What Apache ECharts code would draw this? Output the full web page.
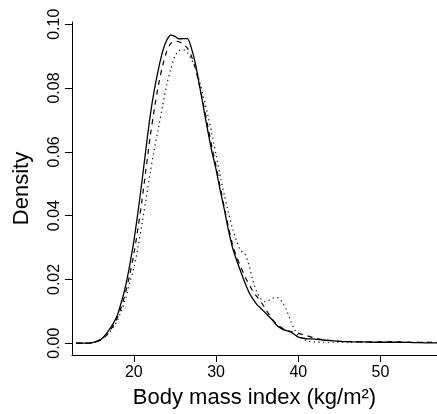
<!DOCTYPE html>
<html>
<head>
<meta charset="utf-8">
<script src="https://cdn.jsdelivr.net/npm/echarts@6/dist/echarts.min.js"></script>
<style>html,body{margin:0;padding:0;background:#fff;}#c{width:437px;height:414px;}</style>
</head>
<body>
<div id="c"></div>
<script>
const bmi = [13,14,15,16,16.5,17,17.5,18,18.5,19,19.5,20,20.5,21,21.5,22,22.5,23,23.5,24,24.5,25,25.5,26,26.5,27,27.5,28,28.5,29,29.5,30,30.5,31,31.5,32,32.5,33,33.5,34,34.5,35,35.5,36,36.5,37,37.5,38,38.5,39,39.5,40,41,42,43,44,45,46,48,50,52,54,56,57];
const densitySolid = [0,0,0.0002,0.0012,0.0025,0.0042,0.0062,0.0088,0.0130,0.0180,0.0245,0.0320,0.0410,0.0510,0.0615,0.0715,0.0795,0.0860,0.0915,0.0950,0.0966,0.0962,0.0954,0.0955,0.0955,0.0925,0.0875,0.0806,0.0735,0.0665,0.0600,0.0545,0.0480,0.0420,0.0355,0.0300,0.0260,0.0225,0.0190,0.0160,0.0138,0.0120,0.0108,0.0095,0.0082,0.0068,0.0053,0.0045,0.0040,0.0036,0.0028,0.0019,0.0014,0.0013,0.0010,0.0008,0.0006,0.0005,0.0004,0.0003,0.0003,0.0002,0.0001,0.0001];
const densityDashed = [0,0,0.0002,0.0010,0.0020,0.0035,0.0055,0.0080,0.0115,0.0160,0.0215,0.0280,0.0360,0.0450,0.0550,0.0650,0.0735,0.0810,0.0870,0.0915,0.0940,0.0947,0.0945,0.0938,0.0925,0.0900,0.0860,0.0805,0.0745,0.0680,0.0615,0.0555,0.0490,0.0425,0.0365,0.0310,0.0270,0.0240,0.0210,0.0185,0.0162,0.0145,0.0128,0.0108,0.0088,0.0070,0.0057,0.0048,0.0042,0.0037,0.0034,0.0031,0.0024,0.0016,0.0011,0.0008,0.0006,0.0005,0.0004,0.0004,0.0004,0.0003,0.0003,0.0003];
const densityDotted = [0,0,0.0002,0.0010,0.0020,0.0033,0.0050,0.0072,0.0102,0.0140,0.0190,0.0235,0.0300,0.0375,0.0455,0.0535,0.0610,0.0675,0.0745,0.0810,0.0860,0.0900,0.0918,0.0920,0.0912,0.0890,0.0862,0.0820,0.0770,0.0715,0.0655,0.0590,0.0525,0.0465,0.0410,0.0360,0.0320,0.0290,0.0280,0.0245,0.0195,0.0158,0.0138,0.0130,0.0135,0.0142,0.0143,0.0130,0.0108,0.0075,0.0045,0.0025,0.0008,0.0004,0.0003,0.0003,0.0003,0.0003,0.0003,0.0003,0.0003,0.0003,0.0003,0.0003];
const xTicks = [20,30,40,50];
const yTicks = [0,0.02,0.04,0.06,0.08,0.10];

const pair = arr => bmi.map((x,i)=>[x,arr[i]]);
const font = 'Liberation Sans, Arial, Helvetica, sans-serif';
const chart = echarts.init(document.getElementById('c'));
const lineSeries = (data, type, w) => ({
  type:'line', data: pair(data), showSymbol:false, smooth:0.3,
  lineStyle:{color:'#000', width:w, type:type}, silent:true
});
chart.setOption({
  animation:false,
  backgroundColor:'#fff',
  grid:{left:72, right:0, top:22, bottom:55},
  xAxis:{
    type:'value', min:12.48, max:56.87,
    axisLine:{show:true, onZero:false, lineStyle:{color:'#000', width:1}},
    axisTick:{show:true, customValues:xTicks, length:7, lineStyle:{color:'#000'}},
    axisLabel:{customValues:xTicks, fontSize:16, color:'#000', fontFamily:font, margin:10},
    splitLine:{show:false},
    name:'Body mass index (kg/m²)', nameLocation:'middle', nameGap:32,
    nameTextStyle:{fontSize:22, color:'#000', fontFamily:font}
  },
  yAxis:{
    type:'value', min:-0.0037, max:0.1007,
    axisLine:{show:true, onZero:false, lineStyle:{color:'#000', width:1}},
    axisTick:{show:true, customValues:yTicks, length:7, lineStyle:{color:'#000'}},
    axisLabel:{customValues:yTicks, rotate:90, fontSize:16, color:'#000', fontFamily:font, margin:9,
      formatter:v=>v.toFixed(2)},
    splitLine:{show:false},
    name:'Density', nameLocation:'middle', nameGap:39, nameRotate:90,
    nameTextStyle:{fontSize:22, color:'#000', fontFamily:font}
  },
  series:[
    lineSeries(densitySolid,'solid',1.3),
    lineSeries(densityDashed,[5,5],1.2),
    lineSeries(densityDotted,[1.2,3.5],1.2)
  ]
});
</script>
</body>
</html>
